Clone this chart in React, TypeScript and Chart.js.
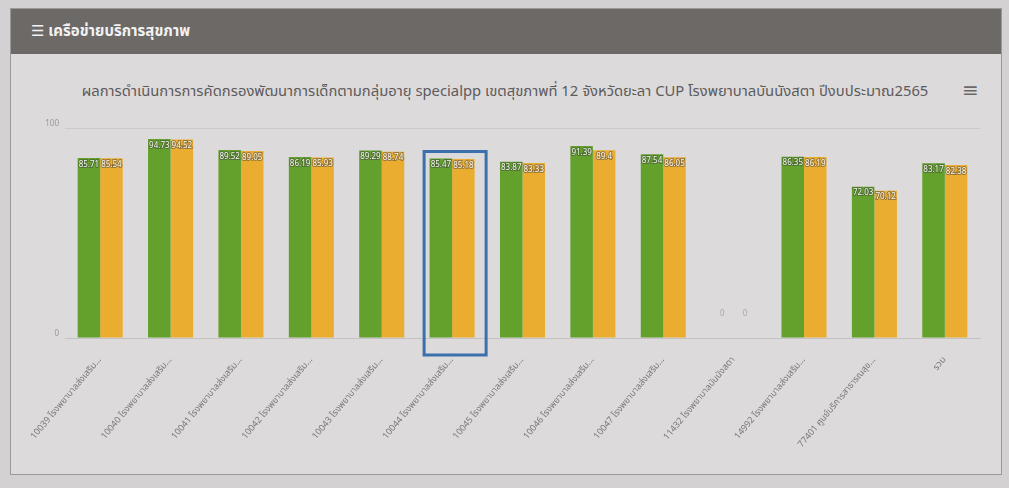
import React, { useEffect, useRef } from "react";
import { Chart, registerables } from "chart.js";

Chart.register(...registerables);

const chartTitle =
  "ผลการดำเนินการการคัดกรองพัฒนาการเด็กตามกลุ่มอายุ specialpp เขตสุขภาพที่ 12 จังหวัดยะลา CUP โรงพยาบาลบันนังสตา ปีงบประมาณ2565";
const headerText = "เครือข่ายบริการสุขภาพ";

const categories = [
  "10039 โรงพยาบาลส่งเสริม...",
  "10040 โรงพยาบาลส่งเสริม...",
  "10041 โรงพยาบาลส่งเสริม...",
  "10042 โรงพยาบาลส่งเสริม...",
  "10043 โรงพยาบาลส่งเสริม...",
  "10044 โรงพยาบาลส่งเสริม...",
  "10045 โรงพยาบาลส่งเสริม...",
  "10046 โรงพยาบาลส่งเสริม...",
  "10047 โรงพยาบาลส่งเสริม...",
  "11432 โรงพยาบาลบันนังสตา",
  "14992 โรงพยาบาลส่งเสริม...",
  "77401 ศูนย์บริการสาธารณสุข...",
  "รวม",
];

const seriesAName = "ร้อยละการคัดกรอง";
const seriesBName = "ร้อยละพัฒนาการสมวัย";
const seriesA = [85.71, 94.73, 89.52, 86.19, 89.29, 85.47, 83.87, 91.39, 87.54, 0, 86.35, 72.03, 83.17];
const seriesB = [85.54, 94.52, 89.05, 85.93, 88.74, 85.18, 83.33, 89.4, 86.05, 0, 86.19, 70.12, 82.38];

const yTicks = [0, 100];
const highlightIndex = 5;

const FONT = "'Noto Sans Thai', 'Noto Sans', 'DejaVu Sans', sans-serif";

const labelPlugin = {
  id: "barLabels",
  afterDatasetsDraw(chart: any) {
    const ctx = chart.ctx;
    ctx.save();
    ctx.font = `8px ${FONT}`;
    ctx.textAlign = "center";
    ctx.textBaseline = "top";
    chart.data.datasets.forEach((ds: any, di: number) => {
      const meta = chart.getDatasetMeta(di);
      meta.data.forEach((el: any, i: number) => {
        const v = ds.data[i];
        const p = el.getProps(["x", "y", "base"], true);
        const txt = String(v);
        if (v > 0) {
          ctx.lineWidth = 2;
          ctx.strokeStyle = "rgba(60,60,60,0.45)";
          ctx.strokeText(txt, p.x, p.y + 3);
          ctx.fillStyle = "#f4f4f0";
          ctx.fillText(txt, p.x, p.y + 3);
        } else {
          ctx.fillStyle = "#a9a7a8";
          ctx.fillText(txt, p.x, p.base - 28);
        }
      });
    });
    // hand-drawn highlight box around one category
    const xs = chart.scales.x;
    const cx = xs.getPixelForValue(highlightIndex) + 3;
    const m0 = chart.getDatasetMeta(0).data[highlightIndex];
    const top = m0.getProps(["y"], true).y - 7;
    const bottom = chart.chartArea.bottom + 17;
    ctx.strokeStyle = "#3b70ad";
    ctx.lineWidth = 3;
    ctx.strokeRect(cx - 31, top, 62, bottom - top);
    ctx.restore();
  },
};

export default function App() {
  const ref = useRef<HTMLCanvasElement | null>(null);

  useEffect(() => {
    if (!ref.current) return;
    const chart = new Chart(ref.current, {
      type: "bar",
      data: {
        labels: categories,
        datasets: [
          {
            label: seriesAName,
            data: seriesA,
            backgroundColor: "#63a02c",
            barPercentage: 1,
            categoryPercentage: 0.64,
          },
          {
            label: seriesBName,
            data: seriesB,
            backgroundColor: "#ebad30",
            barPercentage: 1,
            categoryPercentage: 0.64,
          },
        ],
      },
      options: {
        animation: false,
        responsive: true,
        maintainAspectRatio: false,
        layout: { padding: { top: 68, right: 15, left: 0, bottom: 0 } },
        plugins: {
          legend: { display: false },
          title: { display: false },
          tooltip: { enabled: false },
        },
        scales: {
          x: {
            grid: { display: false },
            border: { color: "#c4c2c3" },
            ticks: {
              autoSkip: false,
              maxRotation: 50,
              minRotation: 50,
              padding: 9,
              color: "#7a7879",
              font: { size: 9, family: FONT },
            },
            afterFit: (s: any) => {
              s.height = 127;
              s.paddingLeft = 0;
              s.paddingRight = 0;
            },
          },
          y: {
            min: 0,
            max: 100,
            afterBuildTicks: (s: any) => {
              s.ticks = yTicks.map((v) => ({ value: v }));
            },
            grid: { color: "rgba(0,0,0,0.07)", drawTicks: false },
            border: { display: false },
            ticks: {
              padding: 6,
              labelOffset: -4,
              color: "#9a9899",
              font: { size: 8, family: FONT },
            },
            afterFit: (s: any) => {
              s.width = 45;
            },
          },
        },
      },
      plugins: [labelPlugin],
    });
    return () => chart.destroy();
  }, []);

  return (
    <div
      style={{
        position: "absolute",
        left: 0,
        top: 0,
        width: 1009,
        height: 488,
        background: "#d3d1d2",
        overflow: "hidden",
        fontFamily: FONT,
      }}
    >
      <div
        style={{
          position: "absolute",
          left: 10,
          top: 8,
          width: 990,
          height: 465,
          background: "#dcdadb",
          border: "1px solid #9a9899",
        }}
      >
        <div
          style={{
            position: "absolute",
            left: 0,
            top: 0,
            right: 0,
            height: 45,
            background: "#6c6967",
            color: "#f2f2f2",
            fontSize: 15,
            fontWeight: 700,
            lineHeight: "45px",
            paddingLeft: 20,
            boxSizing: "border-box",
          }}
        >
          ☰ {headerText}
        </div>
      </div>
      <div
        style={{
          position: "absolute",
          left: 80,
          top: 80,
          width: 850,
          textAlign: "center",
          fontSize: 14.8,
          color: "#5c5a5b",
          whiteSpace: "nowrap",
        }}
      >
        {chartTitle}
      </div>
      <div
        style={{
          position: "absolute",
          left: 962,
          top: 76,
          fontSize: 20,
          color: "#6a6869",
        }}
      >
        ≡
      </div>
      <div style={{ position: "absolute", left: 20, top: 60, width: 975, height: 405 }}>
        <canvas ref={ref} />
      </div>
    </div>
  );
}
